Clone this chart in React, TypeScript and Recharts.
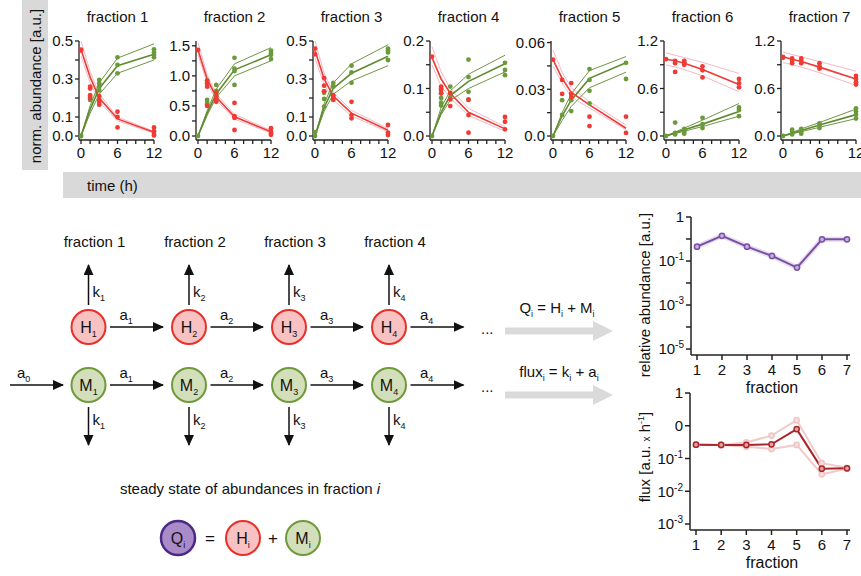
import React from 'react'
import { ComposedChart, LineChart, Line, Scatter, XAxis, YAxis } from 'recharts'

const FONT = '"Liberation Sans", Arial, Helvetica, sans-serif'

// sampling times (h)
const TIMES = [0, 1.5, 3, 6, 12]
const X_TICKS = [0, 1.5, 3, 4.5, 6, 7.5, 9, 10.5, 12]
const X_LABELS = [0, 6, 12]

const FRACTION_NAMES = ['fraction 1', 'fraction 2', 'fraction 3', 'fraction 4', 'fraction 5', 'fraction 6', 'fraction 7']

// y axis per panel
const Y_MAX = [0.5, 1.58, 0.5, 0.2, 0.061, 1.2, 1.2]
const Y_TICKS = [
  [0, 0.1, 0.2, 0.3, 0.4, 0.5],
  [0, 0.25, 0.5, 0.75, 1, 1.25, 1.5],
  [0, 0.1, 0.2, 0.3, 0.4, 0.5],
  [0, 0.05, 0.1, 0.15, 0.2],
  [0, 0.015, 0.03, 0.045, 0.06],
  [0, 0.3, 0.6, 0.9, 1.2],
  [0, 0.3, 0.6, 0.9, 1.2],
]
const Y_LABELS = [
  ['0.0', '0.1', '', '0.3', '', '0.5'],
  ['0.0', '', '0.5', '', '1.0', '', '1.5'],
  ['0.0', '0.1', '', '0.3', '', '0.5'],
  ['0.0', '', '0.1', '', '0.2'],
  ['0.0', '', '0.03', '', '0.06'],
  ['0.0', '', '0.6', '', '1.2'],
  ['0.0', '', '0.6', '', '1.2'],
]

// replicate measurements, one list per time point
const RED_PTS = [
  [[0.455, 0.45], [0.26, 0.25, 0.215, 0.2], [0.21, 0.19, 0.18, 0.165], [0.128, 0.1, 0.045], [0.045, 0.025, 0.01, 0.003]],
  [[1.43], [0.92, 0.87, 0.82, 0.5], [0.72, 0.65, 0.6, 0.57], [0.55, 0.33, 0.3, 0.1], [0.13, 0.07, 0.04, 0.02]],
  [[0.46, 0.43], [0.305, 0.265, 0.235], [0.215, 0.205, 0.19], [0.18, 0.11, 0.093], [0.058, 0.017, 0.005]],
  [[0.167], [0.104, 0.1, 0.097, 0.09], [0.09, 0.077, 0.063], [0.076, 0.044, 0.007], [0.04, 0.03, 0.014]],
  [[0.049], [0.036, 0.027], [0.034, 0.027, 0.025], [0.0124, 0.0064], [0.0124, 0.002]],
  [[0.97], [0.95, 0.92, 0.81], [0.95, 0.93, 0.9], [0.88, 0.83, 0.74], [0.72, 0.665, 0.615]],
  [[1.0, 0.99], [0.98, 0.95, 0.92], [0.98, 0.95, 0.92], [0.92, 0.88, 0.85], [0.76, 0.72, 0.68, 0.65]],
]
const GREEN_PTS = [
  [[0, 0], [0.207, 0.195, 0.19], [0.295, 0.277, 0.26, 0.24], [0.414, 0.374, 0.33], [0.456, 0.44, 0.426, 0.414]],
  [[0], [0.92, 0.88, 0.6, 0.55, 0.52], [0.85, 0.75, 0.7, 0.65], [1.3, 1.12, 1.08, 0.85], [1.42, 1.38, 1.35, 1.28]],
  [[0.02, 0], [0.235, 0.227, 0.195, 0.155], [0.28, 0.265, 0.26, 0.195], [0.37, 0.335, 0.28], [0.46, 0.45, 0.44, 0.4]],
  [[0], [0.09, 0.08, 0.07, 0.064], [0.104, 0.09, 0.08], [0.161, 0.124, 0.093, 0.077], [0.154, 0.139, 0.128]],
  [[0], [0.023, 0.0135], [0.027, 0.023, 0.016], [0.043, 0.036, 0.029, 0.021], [0.047, 0.0366]],
  [[0], [0.17, 0.04, 0.02], [0.09, 0.06, 0.03], [0.23, 0.15, 0.1], [0.36, 0.33, 0.25]],
  [[0], [0.08, 0.05, 0.02], [0.09, 0.06, 0.03], [0.16, 0.14, 0.1], [0.35, 0.31, 0.27, 0.22]],
]

// model fits (value at each time point) with bounds
const RED_FIT = [
  [0.455, 0.31, 0.2, 0.09, 0.02],
  [1.43, 0.95, 0.65, 0.32, 0.07],
  [0.45, 0.3, 0.21, 0.12, 0.03],
  [0.165, 0.12, 0.09, 0.05, 0.015],
  [0.049, 0.037, 0.028, 0.02, 0.005],
  [0.97, 0.95, 0.92, 0.84, 0.65],
  [1.0, 0.97, 0.94, 0.87, 0.72],
]
const RED_HI = [
  [0.5, 0.34, 0.22, 0.1, 0.025],
  [1.55, 1.02, 0.7, 0.36, 0.09],
  [0.5, 0.33, 0.23, 0.135, 0.04],
  [0.188, 0.135, 0.1, 0.058, 0.02],
  [0.055, 0.041, 0.031, 0.022, 0.007],
  [1.05, 1.02, 0.99, 0.93, 0.79],
  [1.06, 1.03, 1.0, 0.94, 0.82],
]
const RED_LO = [
  [0.42, 0.28, 0.18, 0.08, 0.015],
  [1.35, 0.88, 0.6, 0.28, 0.05],
  [0.41, 0.27, 0.19, 0.105, 0.022],
  [0.15, 0.105, 0.08, 0.043, 0.01],
  [0.045, 0.034, 0.025, 0.018, 0.004],
  [0.9, 0.87, 0.84, 0.76, 0.56],
  [0.93, 0.9, 0.87, 0.8, 0.64],
]
const GREEN_FIT = [
  [0, 0.14, 0.25, 0.37, 0.43],
  [0, 0.38, 0.7, 1.1, 1.35],
  [0, 0.15, 0.25, 0.33, 0.42],
  [0, 0.05, 0.085, 0.115, 0.152],
  [0, 0.013, 0.023, 0.037, 0.047],
  [0, 0.04, 0.08, 0.15, 0.31],
  [0, 0.035, 0.07, 0.14, 0.27],
]
const GREEN_HI = [
  [0, 0.16, 0.28, 0.41, 0.485],
  [0, 0.42, 0.78, 1.2, 1.47],
  [0, 0.17, 0.28, 0.38, 0.48],
  [0, 0.06, 0.095, 0.13, 0.17],
  [0, 0.015, 0.027, 0.042, 0.051],
  [0, 0.05, 0.1, 0.2, 0.41],
  [0, 0.045, 0.09, 0.17, 0.34],
]
const GREEN_LO = [
  [0, 0.12, 0.22, 0.33, 0.4],
  [0, 0.34, 0.64, 1.0, 1.25],
  [0, 0.13, 0.22, 0.29, 0.37],
  [0, 0.045, 0.075, 0.1, 0.135],
  [0, 0.01, 0.019, 0.031, 0.041],
  [0, 0.03, 0.06, 0.12, 0.25],
  [0, 0.028, 0.055, 0.11, 0.22],
]

// right hand summary plots
const FRACTIONS = [1, 2, 3, 4, 5, 6, 7]
const ABUNDANCE = [0.45, 1.4, 0.45, 0.17, 0.05, 0.97, 0.97]
const FLUX = [0.265, 0.26, 0.26, 0.27, 0.79, 0.049, 0.05]
const FLUX_HI = [0.265, 0.26, 0.31, 0.5, 1.48, 0.072, 0.052]
const FLUX_LO = [0.265, 0.26, 0.23, 0.196, 0.26, 0.033, 0.049]

const ABUND_TICKS = [1e-5, 1e-4, 1e-3, 1e-2, 1e-1, 1, 10]
const ABUND_LABELS = [['10', '-5'], null, ['10', '-3'], null, ['10', '-1'], null, ['1', '']]
const FLUX_TICKS = [1e-3, 1e-2, 1e-1, 1, 10]
const FLUX_LABELS = [['10', '-3'], ['10', '-2'], ['10', '-1'], ['0', ''], ['1', '']]

// layout: x of the y-axis line for each small panel
const PANEL_AXIS_X = [79, 196, 313, 430, 551, 664, 781]

const RED = '#ee3b36'
const PINK = '#f7b8c3'
const GREEN = '#6b9a3a'
const GREEN_LINE = '#5f8a30'
const AXIS = '#222'

function Dot({ cx, cy, fill }: any) {
  if (cx == null || cy == null) return null
  return <circle cx={cx} cy={cy} r={2.4} fill={fill} />
}

function FractionPanel({ idx }: { idx: number }) {
  const yw = 40
  const rows = TIMES.map((t, i) => ({
    t,
    r: RED_FIT[idx][i],
    rHi: RED_HI[idx][i],
    rLo: RED_LO[idx][i],
    g: GREEN_FIT[idx][i],
    gHi: GREEN_HI[idx][i],
    gLo: GREEN_LO[idx][i],
  }))
  const redPts = RED_PTS[idx].flatMap((vals, i) => vals.map((v) => ({ t: TIMES[i], v })))
  const greenPts = GREEN_PTS[idx].flatMap((vals, i) => vals.map((v) => ({ t: TIMES[i], v })))
  const ticks = Y_TICKS[idx]
  const labels = Y_LABELS[idx]
  const axisX = PANEL_AXIS_X[idx]

  return (
    <div style={{ position: 'absolute', left: axisX - yw, top: 31 }}>
      <ComposedChart width={yw + 75 + 12} height={134} data={rows} margin={{ top: 10, right: 12, bottom: 0, left: 0 }}>
        <XAxis
          type="number"
          dataKey="t"
          domain={[0, 12]}
          ticks={X_TICKS}
          interval={0}
          tickFormatter={(v: number) => (X_LABELS.includes(v) ? String(v) : '')}
          padding={{ left: 2, right: 0 }}
          tickSize={4}
          tickMargin={3}
          height={25}
          stroke={AXIS}
          strokeWidth={1.3}
          tick={{ fontSize: 15, fill: '#111', fontFamily: FONT }}
        />
        <YAxis
          type="number"
          domain={[0, Y_MAX[idx]]}
          ticks={ticks}
          interval={0}
          tickFormatter={(v: number) => labels[ticks.indexOf(v)] ?? ''}
          padding={{ top: 0, bottom: 4 }}
          width={yw}
          tickSize={4}
          tickMargin={2}
          stroke={AXIS}
          strokeWidth={1.3}
          tick={{ fontSize: 15, fill: '#111', fontFamily: FONT }}
        />
        <Line dataKey="rHi" stroke={PINK} strokeWidth={1} dot={false} isAnimationActive={false} />
        <Line dataKey="rLo" stroke={PINK} strokeWidth={1} dot={false} isAnimationActive={false} />
        <Line dataKey="r" stroke={RED} strokeWidth={1.6} dot={false} isAnimationActive={false} />
        <Line dataKey="gHi" stroke={GREEN_LINE} strokeWidth={0.9} dot={false} isAnimationActive={false} />
        <Line dataKey="gLo" stroke={GREEN_LINE} strokeWidth={0.9} dot={false} isAnimationActive={false} />
        <Line dataKey="g" stroke={GREEN_LINE} strokeWidth={1.6} dot={false} isAnimationActive={false} />
        <Scatter data={greenPts} dataKey="v" shape={(p: any) => <Dot {...p} fill={GREEN} />} isAnimationActive={false} />
        <Scatter data={redPts} dataKey="v" shape={(p: any) => <Dot {...p} fill={RED} />} isAnimationActive={false} />
      </ComposedChart>
    </div>
  )
}

function LogTick({ x, y, payload, ticks, labels }: any) {
  const i = ticks.findIndex((t: number) => Math.abs(Math.log10(t) - Math.log10(payload.value)) < 1e-6)
  const lab = labels[i]
  if (!lab) return null
  return (
    <text x={x} y={y} dy="0.35em" textAnchor="end" fontSize={15} fill="#111" fontFamily={FONT}>
      {lab[0]}
      {lab[1] ? (
        <tspan dy={-6} fontSize={10}>
          {lab[1]}
        </tspan>
      ) : null}
    </text>
  )
}

const fractionXAxis = (
  <XAxis
    type="number"
    dataKey="f"
    domain={[1, 7]}
    ticks={FRACTIONS}
    interval={0}
    padding={{ left: 6, right: 3 }}
    tickSize={5}
    tickMargin={4}
    height={40}
    stroke={AXIS}
    strokeWidth={1.5}
    tick={{ fontSize: 15, fill: '#111', fontFamily: FONT }}
  />
)

function AbundanceChart() {
  const data = FRACTIONS.map((f, i) => ({ f, q: ABUNDANCE[i] }))
  return (
    <div style={{ position: 'absolute', left: 641, top: 207 }}>
      <LineChart width={220} height={188} data={data} margin={{ top: 10, right: 11, bottom: 0, left: 0 }}>
        {fractionXAxis}
        <YAxis
          scale="log"
          type="number"
          domain={[1e-5, 10]}
          ticks={ABUND_TICKS}
          interval={0}
          allowDataOverflow
          padding={{ top: 0, bottom: 6 }}
          width={50}
          tickSize={5}
          stroke={AXIS}
          strokeWidth={1.5}
          tick={(p: any) => <LogTick {...p} ticks={ABUND_TICKS} labels={ABUND_LABELS} />}
        />
        <Line dataKey="q" stroke="#e6dcf0" strokeWidth={5} dot={false} isAnimationActive={false} />
        <Line
          dataKey="q"
          stroke="#7a4fa3"
          strokeWidth={2}
          dot={{ r: 2.6, fill: '#c6b0e0', stroke: '#7a4fa3', strokeWidth: 1.5 }}
          isAnimationActive={false}
        />
      </LineChart>
    </div>
  )
}

function FluxChart() {
  const data = FRACTIONS.map((f, i) => ({ f, v: FLUX[i], hi: FLUX_HI[i], lo: FLUX_LO[i] }))
  const light = { r: 2.6, fill: '#f6dede', stroke: '#f0c4c4', strokeWidth: 1.5 }
  return (
    <div style={{ position: 'absolute', left: 640, top: 383 }}>
      <LineChart width={221} height={187} data={data} margin={{ top: 10, right: 11, bottom: 0, left: 0 }}>
        {fractionXAxis}
        <YAxis
          scale="log"
          type="number"
          domain={[1e-3, 10]}
          ticks={FLUX_TICKS}
          interval={0}
          allowDataOverflow
          padding={{ top: 0, bottom: 6 }}
          width={50}
          tickSize={5}
          stroke={AXIS}
          strokeWidth={1.5}
          tick={(p: any) => <LogTick {...p} ticks={FLUX_TICKS} labels={FLUX_LABELS} />}
        />
        <Line dataKey="hi" stroke="#f2caca" strokeWidth={2} dot={light} isAnimationActive={false} />
        <Line dataKey="lo" stroke="#f2caca" strokeWidth={2} dot={light} isAnimationActive={false} />
        <Line
          dataKey="v"
          stroke="#a8262b"
          strokeWidth={2}
          dot={{ r: 2.6, fill: '#e9a0a0', stroke: '#a8262b', strokeWidth: 1.5 }}
          isAnimationActive={false}
        />
      </LineChart>
    </div>
  )
}

// ---------- scheme (static drawing) ----------
const COLS = [88.5, 189, 289, 389]
const H_Y = 327
const M_Y = 385
const NODE_R = 17

function Sub({ base, sub, x, y, size = 15, anchor = 'start' }: any) {
  return (
    <text x={x} y={y} fontSize={size} fill="#111" fontFamily={FONT} textAnchor={anchor}>
      {base}
      <tspan fontSize={9} dy={4}>
        {sub}
      </tspan>
    </text>
  )
}

function Node({ cx, cy, fill, stroke, base, sub, sw = 2 }: any) {
  return (
    <g>
      <circle cx={cx} cy={cy} r={NODE_R} fill={fill} stroke={stroke} strokeWidth={sw} />
      <Sub base={base} sub={sub} x={cx} y={cy + 6} size={16} anchor="middle" />
    </g>
  )
}

function Arrow({ x1, y1, x2, y2 }: any) {
  return <line x1={x1} y1={y1} x2={x2} y2={y2} stroke="#111" strokeWidth={1.5} markerEnd="url(#ah)" />
}

function GrayArrow({ y }: { y: number }) {
  const d = `M505,${y - 3.5} L593,${y - 3.5} L593,${y - 10} L613,${y} L593,${y + 10} L593,${y + 3.5} L505,${y + 3.5} Z`
  return <path d={d} fill="#dadada" />
}

function Scheme() {
  return (
    <svg width={861} height={576} style={{ position: 'absolute', left: 0, top: 0 }}>
      <defs>
        <marker id="ah" markerWidth="12" markerHeight="12" refX="10" refY="5" orient="auto" markerUnits="userSpaceOnUse">
          <path d="M0,0 L11,5 L0,10 Z" fill="#111" />
        </marker>
      </defs>

      {/* panel frame pieces */}
      <rect x={22} y={0} width={26} height={170} fill="#d9d9d9" />
      <text
        x={36}
        y={86}
        transform="rotate(-90 36 86)"
        textAnchor="middle"
        dy="0.35em"
        fontSize={15}
        fill="#111"
        fontFamily={FONT}
      >
        norm. abundance [a.u.]
      </text>
      <rect x={63} y={172} width={798} height={26} fill="#d9d9d9" />
      <text x={87} y={191} fontSize={15} fill="#111" fontFamily={FONT}>
        time (h)
      </text>
      {FRACTION_NAMES.map((n, i) => (
        <text key={n} x={PANEL_AXIS_X[i] + 38.5} y={22} textAnchor="middle" fontSize={15} fill="#111" fontFamily={FONT}>
          {n}
        </text>
      ))}

      {/* compartment model */}
      {COLS.map((x, i) => (
        <g key={i}>
          <text x={x + 6} y={247} textAnchor="middle" fontSize={15} fill="#111" fontFamily={FONT}>
            {FRACTION_NAMES[i]}
          </text>
          <Arrow x1={x} y1={H_Y - NODE_R - 5} x2={x} y2={265} />
          <Sub base="k" sub={i + 1} x={x + 4} y={297} />
          <Node cx={x} cy={H_Y} fill="#f8c2c2" stroke="#e8302a" base="H" sub={i + 1} />
          <Arrow x1={x + 21.5} y1={H_Y} x2={(COLS[i + 1] ?? x + 100.5) - 26} y2={H_Y} />
          <Sub base="a" sub={i + 1} x={x + 31} y={320} />
          <Node cx={x} cy={M_Y} fill="#d3dfba" stroke="#6f9a3a" base="M" sub={i + 1} />
          <Arrow x1={x + 21.5} y1={M_Y} x2={(COLS[i + 1] ?? x + 100.5) - 26} y2={M_Y} />
          <Sub base="a" sub={i + 1} x={x + 31} y={378} />
          <Arrow x1={x} y1={M_Y + NODE_R + 5} x2={x} y2={445} />
          <Sub base="k" sub={i + 1} x={x + 4} y={425} />
        </g>
      ))}
      <Arrow x1={10} y1={M_Y} x2={63} y2={M_Y} />
      <Sub base="a" sub={0} x={17} y={378} />
      <text x={481} y={334} fontSize={15} fill="#111" fontFamily={FONT}>
        ...
      </text>
      <text x={481} y={392} fontSize={15} fill="#111" fontFamily={FONT}>
        ...
      </text>

      <GrayArrow y={331} />
      <GrayArrow y={395} />
      <text x={557} y={313} textAnchor="middle" fontSize={15} fill="#111" fontFamily={FONT}>
        Q<tspan fontSize={9} dy={4}>i</tspan>
        <tspan dy={-4}> = H</tspan>
        <tspan fontSize={9} dy={4}>i</tspan>
        <tspan dy={-4}> + M</tspan>
        <tspan fontSize={9} dy={4}>i</tspan>
      </text>
      <text x={559} y={377} textAnchor="middle" fontSize={15} fill="#111" fontFamily={FONT}>
        flux<tspan fontSize={9} dy={4}>i</tspan>
        <tspan dy={-4}> = k</tspan>
        <tspan fontSize={9} dy={4}>i</tspan>
        <tspan dy={-4}> + a</tspan>
        <tspan fontSize={9} dy={4}>i</tspan>
      </text>

      <text x={250} y={494} textAnchor="middle" fontSize={15} fill="#111" fontFamily={FONT}>
        steady state of abundances in fraction <tspan fontStyle="italic">i</tspan>
      </text>
      <Node cx={178} cy={538} fill="#a98bca" stroke="#4b2a86" base="Q" sub="i" sw={2.5} />
      <text x={210} y={544} textAnchor="middle" fontSize={17} fill="#111" fontFamily={FONT}>
        =
      </text>
      <Node cx={243} cy={538} fill="#f8c2c2" stroke="#e8302a" base="H" sub="i" />
      <text x={273} y={544} textAnchor="middle" fontSize={17} fill="#111" fontFamily={FONT}>
        +
      </text>
      <Node cx={303} cy={538} fill="#d3dfba" stroke="#6f9a3a" base="M" sub="i" />

      {/* right plot axis titles */}
      <text x={645} y={295} transform="rotate(-90 645 295)" textAnchor="middle" dy="0.35em" fontSize={15} fill="#111" fontFamily={FONT}>
        relative abundance [a.u.]
      </text>
      <text x={772} y={393} textAnchor="middle" fontSize={16} fill="#111" fontFamily={FONT}>
        fraction
      </text>
      <text x={645} y={457} transform="rotate(-90 645 457)" textAnchor="middle" dy="0.35em" fontSize={15} fill="#111" fontFamily={FONT}>
        flux [a.u. <tspan fontSize={10}>x</tspan> h<tspan fontSize={9} dy={-6}>-1</tspan>
        <tspan dy={6}>]</tspan>
      </text>
      <text x={772} y={568} textAnchor="middle" fontSize={16} fill="#111" fontFamily={FONT}>
        fraction
      </text>
    </svg>
  )
}

export default function App() {
  return (
    <div style={{ position: 'absolute', left: 0, top: 0, width: 861, height: 576, background: '#fff', overflow: 'hidden', fontFamily: FONT }}>
      <Scheme />
      {FRACTION_NAMES.map((_, i) => (
        <FractionPanel key={i} idx={i} />
      ))}
      <AbundanceChart />
      <FluxChart />
    </div>
  )
}
